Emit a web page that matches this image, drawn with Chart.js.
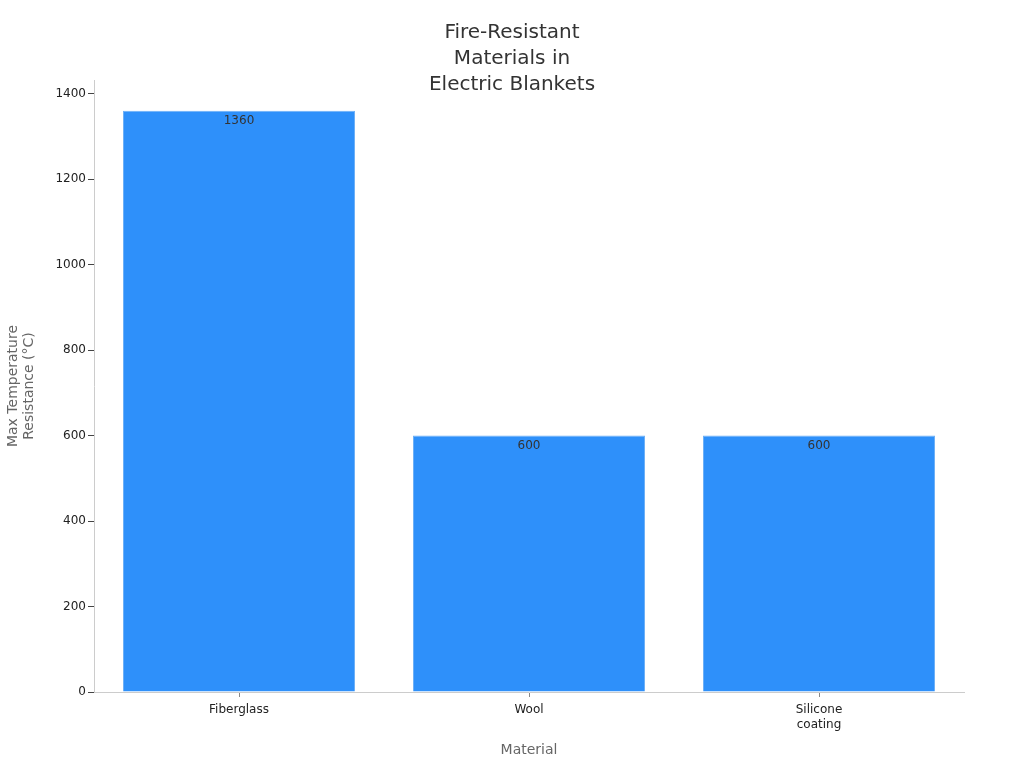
<!DOCTYPE html>
<html>
<head>
<meta charset="utf-8">
<script src="https://cdn.jsdelivr.net/npm/chart.js@4"></script>
<style>
html,body{margin:0;padding:0;background:#fff;}
#wrap{width:1024px;height:768px;position:relative;}
</style>
</head>
<body>
<div id="wrap"><canvas id="c" width="1024" height="768"></canvas></div>
<script>
const titleLines = ["Fire-Resistant", "Materials in", "Electric Blankets"];
const categories = ["Fiberglass", "Wool", ["Silicone", "coating"]];
const values = [1360, 600, 600];
const yTicks = [0, 200, 400, 600, 800, 1000, 1200, 1400];
const yAxisTitle = ["Max Temperature", "Resistance (°C)"];
const xAxisTitle = "Material";

const FONT = "'DejaVu Sans', sans-serif";

const titlePlugin = {
  id: 'titleDraw',
  afterDraw(chart) {
    const ctx = chart.ctx;
    ctx.save();
    ctx.font = "20px " + FONT;
    ctx.fillStyle = "#333333";
    ctx.textAlign = "center";
    ctx.textBaseline = "middle";
    titleLines.forEach((t, i) => ctx.fillText(t, 512, 33 + i * 26));
    ctx.restore();
  }
};

const labelPlugin = {
  id: 'barLabels',
  afterDatasetsDraw(chart) {
    const ctx = chart.ctx;
    const meta = chart.getDatasetMeta(0);
    ctx.save();
    ctx.font = "12px " + FONT;
    ctx.fillStyle = "#333333";
    ctx.textAlign = "center";
    ctx.textBaseline = "middle";
    meta.data.forEach((bar, i) => {
      ctx.fillText(String(values[i]), bar.x, bar.y + 10.5);
    });
    ctx.restore();
  }
};

new Chart(document.getElementById('c'), {
  type: 'bar',
  data: {
    labels: categories,
    datasets: [{
      data: values,
      backgroundColor: '#2e90fa',
      borderColor: '#6db0f7',
      borderWidth: 1,
      barPercentage: 0.8,
      categoryPercentage: 1.0
    }]
  },
  options: {
    responsive: false,
    animation: false,
    devicePixelRatio: 1,
    layout: { padding: { left: 0, top: 80, right: 60, bottom: 0 } },
    plugins: {
      legend: { display: false },
      title: { display: false },
      tooltip: { enabled: false }
    },
    scales: {
      x: {
        grid: { offset: false, drawOnChartArea: false, drawTicks: true, tickLength: 5, color: '#888888' },
        border: { display: true, color: '#cccccc', width: 1 },
        ticks: { font: { family: FONT, size: 12 }, color: '#222222', padding: 6, maxRotation: 0 },
        title: { display: true, text: xAxisTitle, font: { family: FONT, size: 14 }, color: '#666666', padding: { top: 0, bottom: 9.6 } },
        afterFit(scale) { scale.height = 76; }
      },
      y: {
        min: 0,
        max: 1432,
        afterBuildTicks(scale) { scale.ticks = yTicks.map(v => ({ value: v })); },
        grid: { drawOnChartArea: false, drawTicks: true, tickLength: 6, color: '#444444' },
        border: { display: true, color: '#cccccc', width: 1 },
        ticks: { font: { family: FONT, size: 12 }, color: '#222222', padding: 2, callback: v => String(v) },
        title: { display: true, text: yAxisTitle, font: { family: FONT, size: 14 }, color: '#666666', padding: { top: 4.6, bottom: 0 } },
        afterFit(scale) { scale.width = 94; }
      }
    }
  },
  plugins: [titlePlugin, labelPlugin]
});
</script>
</body>
</html>
